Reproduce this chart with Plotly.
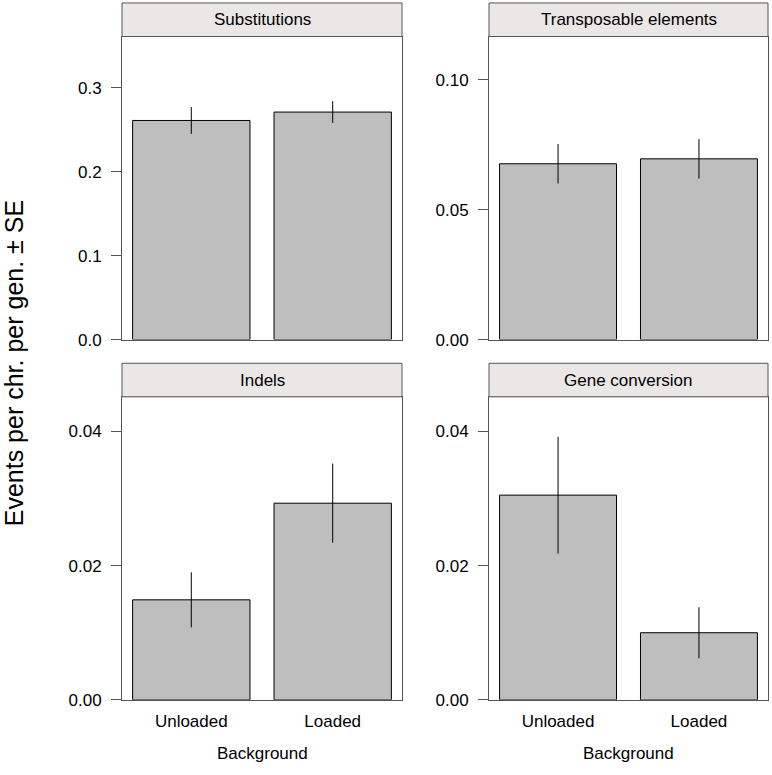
"""Mutation events per chromosome per generation, by genetic background."""
import plotly.graph_objects as go

# ---- data ----
backgrounds = ["Unloaded", "Loaded"]
panels = ["Substitutions", "Transposable elements", "Indels", "Gene conversion"]

subst_mean = [0.261, 0.271]
subst_se = [0.016, 0.013]
te_mean = [0.0677, 0.0696]
te_se = [0.0076, 0.0076]
indel_mean = [0.0149, 0.0293]
indel_se = [0.0041, 0.0059]
gc_mean = [0.0305, 0.0100]
gc_se = [0.0087, 0.0038]

y_ranges = [[0, 0.361], [0, 0.1167], [0, 0.04515], [0, 0.04515]]
y_ticks = [[0.0, 0.1, 0.2, 0.3], [0.0, 0.05, 0.10], [0.0, 0.02, 0.04], [0.0, 0.02, 0.04]]
y_fmt = [".1f", ".2f", ".2f", ".2f"]

W, H = 772, 775
FONT = "Liberation Sans, Arial, Helvetica, sans-serif"
BORDER = "#555555"
STRIP = "#EBE7E7"

# panel geometry (pixels -> paper)
cols = [(122 / W, 402 / W), (489 / W, 768 / W)]
rows = [((H - 344) / H, (H - 37) / H), ((H - 709) / H, (H - 402) / H)]
strip_h = 34 / H

means = [subst_mean, te_mean, indel_mean, gc_mean]
ses = [subst_se, te_se, indel_se, gc_se]

fig = go.Figure()
shapes = []
annotations = []
layout_axes = {}


def label(text, x, y, size=17, angle=0):
    return dict(text=text, xref="paper", yref="paper", x=x, y=y,
                xanchor="center", yanchor="middle", textangle=angle,
                showarrow=False,
                font=dict(size=size, color="black", family=FONT))


for i, name in enumerate(panels):
    r, c = divmod(i, 2)
    n = "" if i == 0 else str(i + 1)
    fig.add_trace(go.Bar(
        x=list(range(len(backgrounds))), y=means[i],
        width=0.83,
        marker=dict(color="#BEBEBE", line=dict(color="black", width=1)),
        error_y=dict(type="data", array=ses[i], color="black",
                     thickness=1, width=0),
        xaxis="x" + n, yaxis="y" + n, showlegend=False,
    ))
    layout_axes["xaxis" + n] = dict(
        domain=list(cols[c]), anchor="y" + n, range=[-0.49, 1.49],
        tickvals=[0, 1], ticktext=backgrounds, showticklabels=(r == 1),
        ticks="", showline=True, mirror=True, linecolor=BORDER,
        linewidth=1, showgrid=False, zeroline=False, fixedrange=True,
        tickfont=dict(size=17, color="black", family=FONT),
        ticklabelstandoff=6,
    )
    layout_axes["yaxis" + n] = dict(
        domain=list(rows[r]), anchor="x" + n, range=y_ranges[i],
        tickvals=y_ticks[i], tickformat=y_fmt[i], ticks="outside",
        ticklen=10, tickcolor=BORDER, tickwidth=1,
        showline=True, mirror=True, linecolor=BORDER, linewidth=1,
        showgrid=False, zeroline=False, fixedrange=True,
        tickfont=dict(size=17, color="black", family=FONT),
        ticklabelstandoff=6,
    )
    # strip above each panel
    y0 = rows[r][1]
    shapes.append(dict(type="rect", xref="paper", yref="paper",
                       x0=cols[c][0], x1=cols[c][1], y0=y0, y1=y0 + strip_h,
                       fillcolor=STRIP, line=dict(color=BORDER, width=1)))
    annotations.append(label(name, (cols[c][0] + cols[c][1]) / 2,
                             y0 + strip_h / 2))

for c in range(2):
    annotations.append(label("Background", (cols[c][0] + cols[c][1]) / 2,
                             (H - 763) / H))

annotations.append(label("Events per chr. per gen. ± SE", 14 / W,
                         (H - 368) / H, size=25, angle=-90))

fig.update_layout(
    width=W, height=H,
    margin=dict(l=0, r=0, t=0, b=0),
    paper_bgcolor="white", plot_bgcolor="white",
    shapes=shapes, annotations=annotations,
    font=dict(family=FONT, color="black"),
    **layout_axes,
)

# drop the page's default body margin so the figure fills the window
fig.write_html("out.html", config={"displayModeBar": False},
               post_script="document.body.style.margin='0px';")
